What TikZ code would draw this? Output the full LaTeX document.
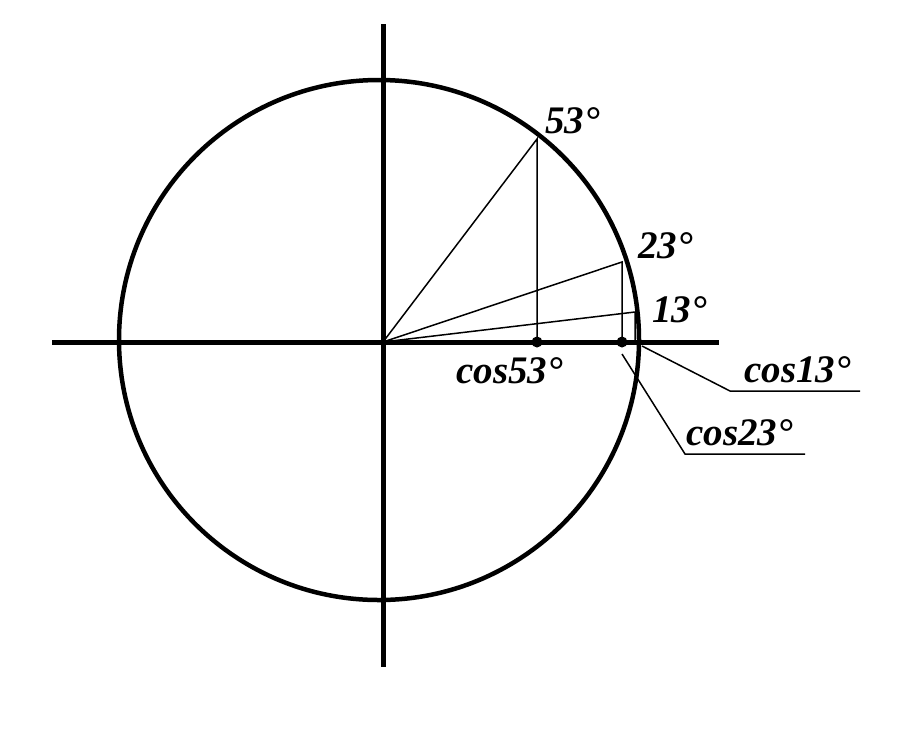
\documentclass[tikz,border=0pt]{standalone}
\usepackage{fontspec}
\setmainfont{Liberation Serif}
\begin{document}
\begin{tikzpicture}[x=1pt,y=-1pt,
  thick line/.style={line width=5pt},
  thin line/.style={line width=1.5pt},
  lbl/.style={anchor=base west,inner sep=0pt,font=\fontsize{39}{44}\selectfont\bfseries\itshape},
  dot/.style={circle,fill=black,inner sep=0pt,minimum size=11pt}]
\useasboundingbox (0,0) rectangle (908,732);
\fill[white] (0,0) rectangle (908,732);
\coordinate (O) at (383,342);
% axes
\coordinate (XL) at (52,342);
\coordinate (XR) at (719,342);
\coordinate (YT) at (383,24);
\coordinate (YB) at (383,667);
\draw[thick line] (XL) -- (XR);
\draw[thick line] (YT) -- (YB);
% circle
\draw[line width=4.5pt] (379,340) circle[radius=260];
% points on circle
\coordinate (P53) at (537,139);
\coordinate (P23) at (622,262);
\coordinate (P13) at (635,312);
\coordinate (F53) at (537,342);
\coordinate (F23) at (622,342);
\coordinate (F13) at (635,342);
\draw[thin line] (O) -- (P53) -- (F53);
\draw[thin line] (O) -- (P23) -- (F23);
\draw[thin line] (O) -- (P13) -- (F13);
\node[dot] (D53) at (F53) {};
\node[dot] (D23) at (F23) {};
% leaders
\coordinate (L13a) at (642,346);
\coordinate (L13b) at (730,391);
\coordinate (L13c) at (860,391);
\coordinate (L23a) at (622,354);
\coordinate (L23b) at (685,454);
\coordinate (L23c) at (805,454);
\draw[thin line] (L13a) -- (L13b) -- (L13c);
\draw[thin line] (L23a) -- (L23b) -- (L23c);
% labels
\node[lbl] (T53) at (545,133) {53°};
\node[lbl] (T23) at (638,258) {23°};
\node[lbl] (T13) at (652,322) {13°};
\node[lbl] (C53) at (456,383) {cos53°};
\node[lbl] (C13) at (744,382) {cos13°};
\node[lbl] (C23) at (686,445) {cos23°};
\end{tikzpicture}
\end{document}
